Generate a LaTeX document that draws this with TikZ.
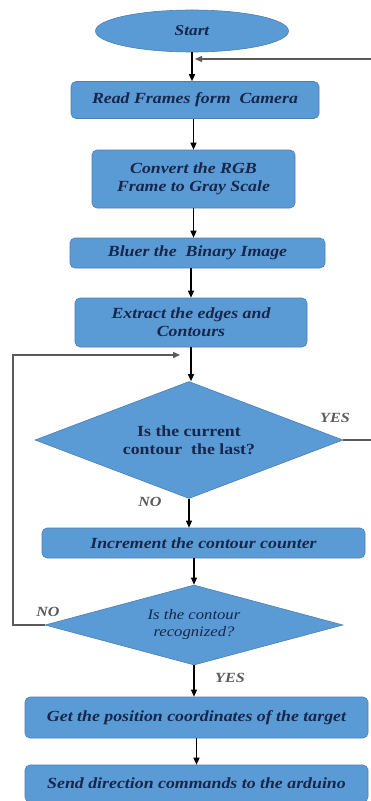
\documentclass[tikz,border=0pt]{standalone}
\usepackage{fontspec}
\setmainfont{Liberation Serif}[FakeStretch=1.15]
\usetikzlibrary{shapes.geometric,arrows.meta}
\definecolor{boxfill}{HTML}{5B9BD5}
\definecolor{boxline}{HTML}{4A7EB5}
\definecolor{txt}{HTML}{17264A}
\definecolor{loopc}{HTML}{5A5A5A}
\begin{document}
\begin{tikzpicture}[x=1pt,y=-1pt,
  base/.style={fill=boxfill,draw=boxline,line width=0.6pt,text=txt,inner sep=0pt,align=center},
  proc/.style={base,rectangle,rounded corners=5pt,font=\fontsize{15.5}{18}\selectfont\bfseries\itshape},
  term/.style={base,ellipse,font=\fontsize{15}{18}\selectfont\bfseries\itshape},
  dec/.style={base,diamond},
  arr/.style={draw=black,line width=1.2pt,-{Triangle[length=7pt,width=6pt]}},
  loopline/.style={draw=loopc,line width=1.4pt,-{Triangle[length=7pt,width=6pt]}},
  lab/.style={text=loopc,font=\fontsize{14}{16}\selectfont\bfseries\itshape}]
\useasboundingbox (0,0) rectangle (371,801);
\node[term,minimum width=193pt,minimum height=42pt] (start) at (192,31) {Start};
\node[proc,minimum width=248pt,minimum height=37pt] (read) at (195,100) {Read Frames form\ \ Camera};
\node[proc,minimum width=203pt,minimum height=58pt] (convert) at (193.5,179) {Convert the RGB\\Frame to Gray Scale};
\node[proc,minimum width=255pt,minimum height=30pt] (bluer) at (197.5,253) {Bluer the\ \ Binary Image};
\node[proc,minimum width=232pt,minimum height=49pt] (extract) at (191,322.5) {Extract the edges and\\Contours};
\node[dec,minimum width=308pt,minimum height=117pt,aspect=2.63,font=\fontsize{15.5}{18}\selectfont\bfseries] (d1) at (189,440) {Is the current\\contour\ \ the last?};
\node[proc,minimum width=323pt,minimum height=30pt] (inc) at (203.5,543) {Increment the contour counter};
\node[dec,minimum width=298pt,minimum height=80pt,aspect=3.7,font=\fontsize{14.5}{17}\selectfont\itshape] (d2) at (194,625) {Is the contour\\recognized?};
\node[proc,minimum width=343pt,minimum height=41pt] (get) at (196.5,717.5) {Get the position coordinates of the target};
\node[proc,minimum width=343pt,minimum height=37pt] (send) at (196.5,783.5) {Send direction commands to the arduino};
\coordinate (j1) at (195,59);
\coordinate (j2) at (180,355);
\coordinate (c2) at (13,355);
\draw[arr] (start.south) -- (start.south |- read.north);
\draw[arr] (read.south -| convert.north) -- (convert.north);
\draw[arr] (convert.south) -- (convert.south |- bluer.north);
\draw[arr] (bluer.south -| extract.north) -- (extract.north);
\draw[arr] (extract.south) -- (extract.south |- d1.north);
\draw[arr] (d1.south) -- (d1.south |- inc.north);
\draw[arr] (inc.south -| d2.north) -- (d2.north);
\draw[arr] (d2.south) -- (d2.south |- get.north);
\draw[arr] (get.south) -- (send.north);
\draw[loopline] (d1.east) -- ++(45,0) |- (j1);
\draw[loopline] (d2.west) -| (c2) -- (j2);
\node[lab] (yes1) at (335,418) {YES};
\node[lab] (no1) at (150,502) {NO};
\node[lab] (no2) at (48,612) {NO};
\node[lab] (yes2) at (230,678) {YES};
\end{tikzpicture}
\end{document}
